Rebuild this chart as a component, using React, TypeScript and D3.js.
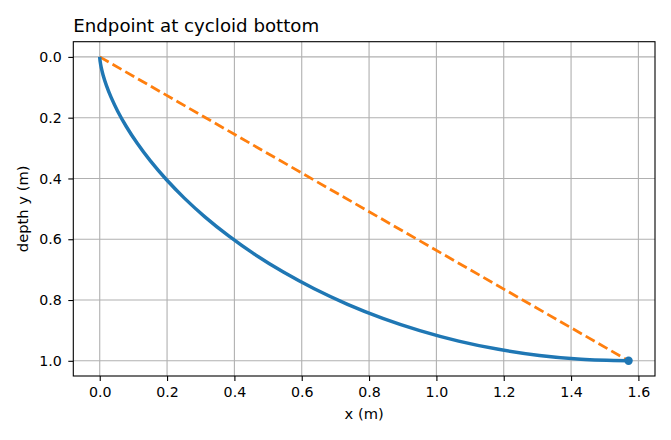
import { useEffect, useRef } from 'react'
import * as d3 from 'd3'

// points (x, depth)
const curveX = [0, 0.0002, 0.0013, 0.0044, 0.0103, 0.02, 0.0342, 0.0537, 0.0793, 0.1114, 0.1505, 0.1971, 0.2513, 0.3132, 0.383, 0.4605, 0.5454, 0.6372, 0.736, 0.8407, 0.9508, 1.0661, 1.1842, 1.3059, 1.4295, 1.5708]
const curveY = [0, 0.0039, 0.0155, 0.0347, 0.0612, 0.0945, 0.1342, 0.1795, 0.2298, 0.2844, 0.3424, 0.4027, 0.4647, 0.5271, 0.5891, 0.6498, 0.7081, 0.763, 0.8141, 0.8602, 0.9006, 0.9351, 0.9622, 0.9824, 0.995, 1.0]

const chordX = [0, 1.5708]
const chordY = [0, 1.0]

const xTicks = [0, 0.2, 0.4, 0.6, 0.8, 1.0, 1.2, 1.4, 1.6]
const yTicks = [0, 0.2, 0.4, 0.6, 0.8, 1.0]

const W = 671
const H = 440
const margin = { top: 41.7, right: 16, bottom: 64, left: 73.3 }

export default function App() {
  const svgRef = useRef<SVGSVGElement>(null)

  useEffect(() => {
    if (!svgRef.current) return
    const svg = d3.select(svgRef.current)
    svg.selectAll('*').remove()

    const innerW = W - margin.left - margin.right
    const innerH = H - margin.top - margin.bottom
    const font = 'DejaVu Sans, sans-serif'

    const x = d3.scaleLinear().domain([-0.0785, 1.6493]).range([0, innerW])
    const y = d3.scaleLinear().domain([-0.05, 1.05]).range([0, innerH])

    const g = svg.append('g').attr('transform', `translate(${margin.left},${margin.top})`)

    // grid
    g.append('g').selectAll('line').data(xTicks).enter().append('line')
      .attr('x1', d => x(d)).attr('x2', d => x(d))
      .attr('y1', 0).attr('y2', innerH)
      .attr('stroke', '#b0b0b0').attr('stroke-width', 1.1)
    g.append('g').selectAll('line').data(yTicks).enter().append('line')
      .attr('y1', d => y(d)).attr('y2', d => y(d))
      .attr('x1', 0).attr('x2', innerW)
      .attr('stroke', '#b0b0b0').attr('stroke-width', 1.1)

    const clip = g.append('clipPath').attr('id', 'plotclip')
    clip.append('rect').attr('width', innerW).attr('height', innerH)
    const plot = g.append('g').attr('clip-path', 'url(#plotclip)')

    const pts = curveX.map((d, i) => [d, curveY[i]] as [number, number])
    const line = d3.line<[number, number]>()
      .x(d => x(d[0])).y(d => y(d[1]))
      .curve(d3.curveCatmullRom.alpha(0.5))

    plot.append('path')
      .datum(chordX.map((d, i) => [d, chordY[i]] as [number, number]))
      .attr('d', d3.line<[number, number]>().x(d => x(d[0])).y(d => y(d[1])))
      .attr('fill', 'none').attr('stroke', '#ff7f0e')
      .attr('stroke-width', 2.78).attr('stroke-dasharray', '10.3,4.45')

    plot.append('path').datum(pts)
      .attr('d', line)
      .attr('fill', 'none').attr('stroke', '#1f77b4')
      .attr('stroke-width', 3.47).attr('stroke-linecap', 'butt')

    plot.append('circle')
      .attr('cx', x(curveX[curveX.length - 1]))
      .attr('cy', y(curveY[curveY.length - 1]))
      .attr('r', 4.2).attr('fill', '#1f77b4')

    // axes
    const xAxis = g.append('g').attr('transform', `translate(0,${innerH})`)
      .call(d3.axisBottom(x).tickValues(xTicks).tickFormat(d3.format('.1f')).tickSizeOuter(0).tickSize(5).tickPadding(5.7))
    const yAxis = g.append('g')
      .call(d3.axisLeft(y).tickValues(yTicks).tickFormat(d3.format('.1f')).tickSizeOuter(0).tickSize(5).tickPadding(6.6))
    ;[xAxis, yAxis].forEach(a => {
      a.select('.domain').remove()
      a.selectAll('line').attr('stroke', '#000').attr('stroke-width', 1.1)
      a.selectAll('text').attr('font-family', font).attr('font-size', 14.2).attr('fill', '#000')
    })

    g.append('rect').attr('width', innerW).attr('height', innerH)
      .attr('fill', 'none').attr('stroke', '#000').attr('stroke-width', 1.1)

    svg.append('text')
      .attr('x', margin.left).attr('y', 32)
      .attr('font-family', font).attr('font-size', 18.2)
      .text('Endpoint at cycloid bottom')

    svg.append('text')
      .attr('x', margin.left + innerW / 2).attr('y', 419)
      .attr('text-anchor', 'middle')
      .attr('font-family', font).attr('font-size', 14.7)
      .text('x (m)')

    svg.append('text')
      .attr('transform', `translate(28,${margin.top + innerH / 2}) rotate(-90)`)
      .attr('text-anchor', 'middle')
      .attr('font-family', font).attr('font-size', 14.7)
      .text('depth y (m)')
  }, [])

  return (
    <div style={{ margin: -8 }}>
      <svg ref={svgRef} width={W} height={H} style={{ display: 'block', background: '#fff' }} />
    </div>
  )
}
